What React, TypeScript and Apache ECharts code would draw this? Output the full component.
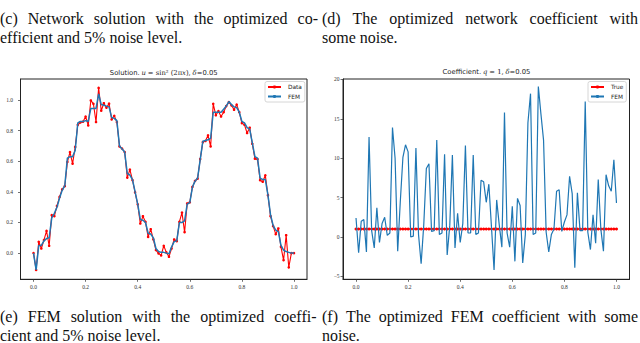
import React, { useEffect, useRef } from "react";
import * as echarts from "echarts";

// mesh nodes
const xNodes = [0,0.01,0.02,0.03,0.04,0.05,0.06,0.07,0.08,0.09,0.1,0.11,0.12,0.13,0.14,0.15,0.16,0.17,0.18,0.19,0.2,0.21,0.22,0.23,0.24,0.25,0.26,0.27,0.28,0.29,0.3,0.31,0.32,0.33,0.34,0.35,0.36,0.37,0.38,0.39,0.4,0.41,0.42,0.43,0.44,0.45,0.46,0.47,0.48,0.49,0.5,0.51,0.52,0.53,0.54,0.55,0.56,0.57,0.58,0.59,0.6,0.61,0.62,0.63,0.64,0.65,0.66,0.67,0.68,0.69,0.7,0.71,0.72,0.73,0.74,0.75,0.76,0.77,0.78,0.79,0.8,0.81,0.82,0.83,0.84,0.85,0.86,0.87,0.88,0.89,0.9,0.91,0.92,0.93,0.94,0.95,0.96,0.97,0.98,0.99,1];

// left panel: noisy data and FEM solution
const solutionData = [0.0,-0.11,0.074,0.03,0.085,0.145,0.048,0.248,0.241,0.308,0.367,0.417,0.437,0.595,0.66,0.584,0.693,0.838,0.853,0.858,0.892,0.834,0.997,0.975,0.856,1.079,0.93,0.979,0.95,0.976,0.873,0.897,0.856,0.697,0.683,0.66,0.493,0.545,0.476,0.397,0.319,0.193,0.241,0.204,0.106,0.156,0.089,0.02,-0.002,-0.015,0.048,0.005,-0.024,0.03,0.089,0.078,0.204,0.265,0.137,0.324,0.332,0.432,0.471,0.486,0.614,0.725,0.732,0.769,0.697,0.975,0.9,0.927,0.892,0.92,0.96,0.986,0.965,0.936,0.97,0.92,0.849,0.838,0.784,0.819,0.714,0.617,0.613,0.476,0.466,0.508,0.378,0.241,0.176,0.124,0.161,0.041,-0.046,0.117,-0.093,0.0,0.0];
const solutionFEM = [0.0,-0.11,0.05,0.05,0.08,0.095,0.1,0.23,0.26,0.3,0.36,0.41,0.44,0.62,0.63,0.63,0.67,0.85,0.86,0.86,0.865,0.86,0.945,0.945,0.945,1.04,0.97,0.965,0.96,0.955,0.885,0.88,0.865,0.7,0.68,0.66,0.52,0.51,0.48,0.4,0.32,0.22,0.215,0.2,0.13,0.125,0.1,0.03,0.01,0.005,0.005,0.0,-0.005,0.04,0.075,0.08,0.2,0.2,0.21,0.32,0.33,0.43,0.47,0.49,0.61,0.73,0.735,0.74,0.75,0.92,0.92,0.92,0.92,0.94,0.96,0.99,0.97,0.955,0.95,0.92,0.86,0.85,0.82,0.81,0.72,0.63,0.62,0.49,0.48,0.48,0.38,0.25,0.18,0.15,0.14,0.05,0.02,0.01,0.005,0.0,0.0];

// right panel: true coefficient and FEM coefficient
const coefTrue = [1,1,1,1,1,1,1,1,1,1,1,1,1,1,1,1,1,1,1,1,1,1,1,1,1,1,1,1,1,1,1,1,1,1,1,1,1,1,1,1,1,1,1,1,1,1,1,1,1,1,1,1,1,1,1,1,1,1,1,1,1,1,1,1,1,1,1,1,1,1,1,1,1,1,1,1,1,1,1,1,1,1,1,1,1,1,1,1,1,1,1,1,1,1,1,1,1,1,1,1,1];
const coefFEM = [2.4,-2.0,2.0,2.2,-1.9,12.7,0.8,-1.4,3.7,-0.7,1.7,2.5,0.2,0.5,13.9,10.0,-1.8,4.5,10.1,11.7,10.8,0.0,0.1,11.3,0.3,-3.4,1.5,8.7,9.3,0.7,0.8,12.3,0.3,0.5,10.5,-2.3,1.5,10.4,-1.4,3.0,-0.7,1.7,11.6,0.5,0.5,10.4,0.3,0.5,7.2,7.0,4.4,6.7,1.3,-4.2,4.7,1.5,-1.3,15.8,0.5,-1.3,3.9,-3.1,4.9,4.0,-3.3,0.3,14.5,18.2,0.3,0.5,19.1,15.6,12.3,0.6,-1.9,0.3,1.0,5.8,6.0,0.7,1.9,2.8,7.7,5.5,-3.9,5.6,0.8,0.8,17.2,0.6,-1.6,2.8,-0.8,7.3,1.0,-1.8,7.9,6.5,5.8,9.8,4.3];

// ticks
const xTickValues = [0, 0.2, 0.4, 0.6, 0.8, 1.0];
const xTickLabels = ["0.0", "0.2", "0.4", "0.6", "0.8", "1.0"];
const solTickValues = [0, 0.2, 0.4, 0.6, 0.8, 1.0];
const solTickLabels = ["0.0", "0.2", "0.4", "0.6", "0.8", "1.0"];
const coefTickValues = [-5, 0, 5, 10, 15, 20];
const coefTickLabels = ["\u22125", "0", "5", "10", "15", "20"];

const captionC = ["(c) Network solution with the optimized co-", "efficient and 5% noise level."];
const captionD = ["(d) The optimized network coefficient with", "some noise."];
const captionE = ["(e) FEM solution with the optimized coeffi-", "cient and 5% noise level."];
const captionF = ["(f) The optimized FEM coefficient with some", "noise."];

const RED = "#ff0000";
const BLUE = "#1f77b4";
const SERIF = "'Liberation Serif', 'DejaVu Serif', serif";
const SANS = "'DejaVu Sans', sans-serif";
const CAPTION_FONT = `16px ${SERIF}`;

function labelFor(values: number[], labels: string[]) {
  return (v: number) => {
    const k = values.findIndex((t) => Math.abs(t - v) < 1e-9);
    return k >= 0 ? labels[k] : "";
  };
}

function pairs(ys: number[]) {
  return xNodes.map((x, i) => [x, ys[i]]);
}

let measureCtx: CanvasRenderingContext2D | null = null;
function measure(t: string, font: string) {
  if (!measureCtx) measureCtx = document.createElement("canvas").getContext("2d");
  if (!measureCtx) return t.length * 7;
  measureCtx.font = font;
  return measureCtx.measureText(t).width;
}

export default function App() {
  const ref = useRef<HTMLDivElement>(null);
  useEffect(() => {
    if (!ref.current) return;
    const chart = echarts.init(ref.current, undefined, { renderer: "svg" });

    const G = [
      { left: 20.5, top: 79, width: 286.5, height: 200.3 },
      { left: 343, top: 79, width: 286.5, height: 200.3 },
    ];

    const xAxis = G.map((_, gi) => ({
      type: "value",
      gridIndex: gi,
      min: -0.05,
      max: 1.05,
      axisLine: { show: true, onZero: false, lineStyle: { color: "#222", width: 1 } },
      splitLine: { show: false },
      axisTick: { show: true, length: 2.5, customValues: xTickValues, lineStyle: { color: "#333", width: 0.7 } },
      axisLabel: {
        customValues: xTickValues,
        formatter: labelFor(xTickValues, xTickLabels),
        fontSize: 5.5,
        fontFamily: SERIF,
        color: "#333",
        margin: 5,
      },
    }));

    const yAxis = [
      {
        type: "value",
        gridIndex: 0,
        min: -0.171,
        max: 1.137,
        axisLine: { show: true, onZero: false, lineStyle: { color: "#222", width: 1 } },
        splitLine: { show: false },
        axisTick: { show: true, length: 2.5, customValues: solTickValues, lineStyle: { color: "#333", width: 0.7 } },
        axisLabel: {
          customValues: solTickValues,
          formatter: labelFor(solTickValues, solTickLabels),
          fontSize: 5.5,
          fontFamily: SERIF,
          color: "#333",
          margin: 7.5,
        },
      },
      {
        type: "value",
        gridIndex: 1,
        min: -5.38,
        max: 20.06,
        axisLine: { show: true, onZero: false, lineStyle: { color: "#222", width: 1 } },
        splitLine: { show: false },
        axisTick: { show: true, length: 2.5, customValues: coefTickValues, lineStyle: { color: "#333", width: 0.7 } },
        axisLabel: {
          customValues: coefTickValues,
          formatter: labelFor(coefTickValues, coefTickLabels),
          fontSize: 5.5,
          fontFamily: SERIF,
          color: "#333",
          margin: 3.5,
        },
      },
    ];

    // captions: first line justified to the column width, second line ragged
    const captionGraphics: any[] = [];
    const addCaption = (lines: string[], x: number, y0: number, justifyWidth: number) => {
      lines.forEach((t, k) => {
        let text = t;
        let rich: any = undefined;
        if (k === 0) {
          const words = t.split(" ");
          const wordsW = words.reduce((s, w) => s + measure(w, CAPTION_FONT), 0);
          const gap = Math.max(2, (justifyWidth - wordsW) / (words.length - 1));
          text = words.join("{g| }");
          rich = { g: { width: gap, font: CAPTION_FONT } };
        }
        captionGraphics.push({
          type: "text",
          x,
          y: y0 + k * 19,
          style: {
            text,
            rich,
            font: CAPTION_FONT,
            fill: "#111",
            textVerticalAlign: "middle",
            textAlign: "left",
          },
        });
      });
    };
    addCaption(captionC, 0, 18, 318);
    addCaption(captionD, 322, 18, 316);
    addCaption(captionE, 0, 316, 316.5);
    addCaption(captionF, 322, 316, 316);

    const titleRich = {
      s: { fontFamily: SANS, fontSize: 6.8, fontWeight: "normal", color: "#222" },
      i: { fontFamily: "'DejaVu Serif', serif", fontStyle: "italic", fontWeight: "normal", fontSize: 6.8, color: "#222" },
      r: { fontFamily: "'DejaVu Serif', serif", fontWeight: "normal", fontSize: 6.8, color: "#222" },
    };

    chart.setOption({
      animation: false,
      backgroundColor: "#ffffff",
      title: [
        {
          text: "{s|Solution.} {i|u} {r|= sin\u00B2 (2\u03C0}{i|x}{r|),} {i|\u03B4}{s|=0.05}",
          left: 163.7,
          top: 69,
          textAlign: "center",
          padding: 0,
          textStyle: { rich: titleRich, fontSize: 6.8, fontWeight: "normal" },
        },
        {
          text: "{s|Coefficient.} {i|q} {r|= 1,} {i|\u03B4}{s|=0.05}",
          left: 486.5,
          top: 68.5,
          textAlign: "center",
          padding: 0,
          textStyle: { rich: titleRich, fontSize: 6.8, fontWeight: "normal" },
        },
      ],
      legend: [
        {
          data: ["Data", "FEM"],
          left: 265,
          top: 81.5,
          orient: "vertical",
          padding: [2.5, 3, 2.5, 2],
          itemWidth: 13,
          itemHeight: 4,
          itemGap: 3.5,
          borderColor: "#cccccc",
          borderWidth: 0.8,
          borderRadius: 2,
          backgroundColor: "rgba(255,255,255,0.85)",
          textStyle: { fontSize: 5.8, fontFamily: SANS, color: "#222", padding: [0, 0, 0, 2] },
        },
        {
          data: ["True", "FEM"],
          left: 588,
          top: 81.5,
          orient: "vertical",
          padding: [2.5, 3, 2.5, 2],
          itemWidth: 13,
          itemHeight: 4,
          itemGap: 3.5,
          borderColor: "#cccccc",
          borderWidth: 0.8,
          borderRadius: 2,
          backgroundColor: "rgba(255,255,255,0.85)",
          textStyle: { fontSize: 5.8, fontFamily: SANS, color: "#222", padding: [0, 0, 0, 2] },
        },
      ],
      grid: G.map((g) => ({ ...g, show: true, borderColor: "#222", borderWidth: 1, backgroundColor: "transparent", containLabel: false })),
      xAxis,
      yAxis,
      series: [
        {
          name: "Data",
          type: "line",
          xAxisIndex: 0,
          yAxisIndex: 0,
          data: pairs(solutionData),
          symbol: "circle",
          symbolSize: 2.6,
          showSymbol: true,
          lineStyle: { color: RED, width: 1.1 },
          itemStyle: { color: RED },
          z: 2,
        },
        {
          name: "FEM",
          type: "line",
          xAxisIndex: 0,
          yAxisIndex: 0,
          data: pairs(solutionFEM),
          symbol: "none",
          lineStyle: { color: BLUE, width: 1.5 },
          itemStyle: { color: BLUE },
          z: 3,
        },
        {
          name: "True",
          type: "line",
          xAxisIndex: 1,
          yAxisIndex: 1,
          data: pairs(coefTrue),
          symbol: "circle",
          symbolSize: 3,
          showSymbol: true,
          lineStyle: { color: RED, width: 1.1 },
          itemStyle: { color: RED },
          z: 2,
        },
        {
          name: "FEM",
          type: "line",
          xAxisIndex: 1,
          yAxisIndex: 1,
          data: pairs(coefFEM),
          symbol: "none",
          lineStyle: { color: BLUE, width: 1.2 },
          itemStyle: { color: BLUE },
          z: 3,
        },
      ],
      graphic: captionGraphics,
    });

    return () => chart.dispose();
  }, []);

  return (
    <div
      ref={ref}
      style={{ position: "absolute", left: 0, top: 0, width: 640, height: 343, background: "#fff" }}
    />
  );
}
